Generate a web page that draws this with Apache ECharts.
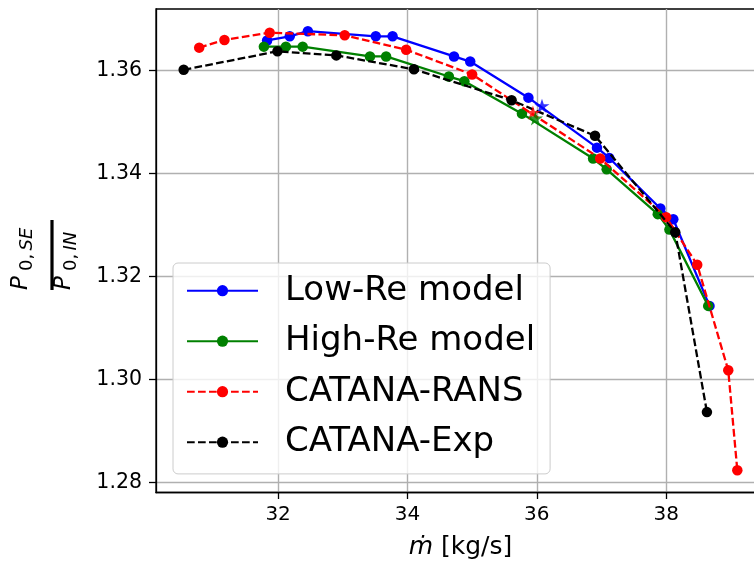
<!DOCTYPE html>
<html>
<head>
<meta charset="utf-8">
<script src="https://cdn.jsdelivr.net/npm/echarts@6/dist/echarts.min.js"></script>
<style>
  html, body { margin: 0; padding: 0; background: #ffffff; }
  #chart { width: 754px; height: 563px; }
</style>
</head>
<body>
<div id="chart"></div>
<script>
// Total-pressure ratio versus mass flow rate
const lowReX  = [31.83, 32.18, 32.46, 33.51, 33.77, 34.72, 34.97, 35.87, 36.93, 37.12, 37.91, 38.11, 38.67];
const lowReY  = [1.3658, 1.3666, 1.3676, 1.3666, 1.3666, 1.3627, 1.3617, 1.3547, 1.3450, 1.3430, 1.3332, 1.3311, 1.3143];

const highReX = [31.78, 32.12, 32.38, 33.42, 33.67, 34.64, 34.88, 35.77, 36.87, 37.08, 37.87, 38.05, 38.65];
const highReY = [1.3646, 1.3646, 1.3646, 1.3627, 1.3627, 1.3588, 1.3579, 1.3516, 1.3429, 1.3408, 1.3321, 1.3291, 1.3143];

const ransX   = [30.78, 31.17, 31.87, 33.03, 33.98, 35.00, 36.98, 38.00, 38.48, 38.96, 39.10];
const ransY   = [1.3644, 1.3659, 1.3673, 1.3668, 1.3640, 1.3592, 1.3429, 1.3315, 1.3223, 1.3018, 1.2824];

const expX    = [30.54, 31.99, 32.90, 34.10, 35.61, 36.90, 38.14, 38.63];
const expY    = [1.3601, 1.3637, 1.3629, 1.3602, 1.3542, 1.3473, 1.3286, 1.2937];

// Design operating points (star markers)
const designLowRe  = [36.08, 1.3531];
const designRans   = [35.94, 1.3518];
const designHighRe = [35.98, 1.3507];

const xTicks = [32, 34, 36, 38];
const yTicks = [1.28, 1.30, 1.32, 1.34, 1.36];

const FONT = 'DejaVu Sans';
const STAR = 'path://M100 0 L122.45 69.1 L195.1 69.1 L136.3 111.8 L158.8 180.9 L100 138.2 L41.2 180.9 L63.7 111.8 L4.9 69.1 L77.55 69.1 Z';
const DASH = [7.7, 3.3];

function pairs(xs, ys) { return xs.map((x, i) => [x, ys[i]]); }

const curves = [
  { name: 'Low-Re model',  color: '#0000ff', dash: 'solid', x: lowReX,  y: lowReY },
  { name: 'High-Re model', color: '#008000', dash: 'solid', x: highReX, y: highReY },
  { name: 'CATANA-RANS',   color: '#ff0000', dash: DASH,    x: ransX,   y: ransY },
  { name: 'CATANA-Exp',    color: '#000000', dash: DASH,    x: expX,    y: expY }
];

const series = curves.map((c, i) => ({
  name: c.name,
  type: 'line',
  data: pairs(c.x, c.y),
  symbol: 'circle',
  symbolSize: 10.5,
  showSymbol: true,
  lineStyle: { color: c.color, width: 2.3, type: c.dash },
  itemStyle: { color: c.color, borderWidth: 0 },
  emphasis: { disabled: true },
  z: 2 + i
}));

const stars = [
  { name: 'Design Low-Re',  color: '#0000ff', p: designLowRe },
  { name: 'Design RANS',    color: '#ff0000', p: designRans },
  { name: 'Design High-Re', color: '#008000', p: designHighRe }
];
stars.forEach((s) => {
  series.push({
    name: s.name,
    type: 'scatter',
    data: [s.p],
    symbol: STAR,
    symbolSize: 15,
    symbolKeepAspect: true,
    itemStyle: { color: s.color },
    emphasis: { disabled: true },
    z: 7
  });
});

const chart = echarts.init(document.getElementById('chart'), null, { renderer: 'canvas' });

chart.setOption({
  animation: false,
  backgroundColor: '#ffffff',
  grid: {
    left: 156, top: 9, bottom: 70.5, right: -11,
    outerBoundsMode: 'none',
    containLabel: false,
    show: true, borderColor: '#000000', borderWidth: 1.3, backgroundColor: 'transparent'
  },
  xAxis: {
    type: 'value',
    min: 30.112, max: 39.528,
    name: '{i|ṁ} [kg/s]',
    nameLocation: 'middle',
    nameGap: 42,
    nameTextStyle: {
      fontFamily: FONT, fontSize: 25, color: '#000',
      rich: { i: { fontFamily: FONT, fontSize: 25, fontStyle: 'italic', color: '#000' } }
    },
    axisLine: { show: true, lineStyle: { color: '#000', width: 1.3 } },
    axisTick: { show: true, length: 6.5, inside: false, lineStyle: { color: '#000', width: 1.3 }, customValues: xTicks },
    axisLabel: { fontFamily: FONT, fontSize: 20, color: '#000', margin: 12, customValues: xTicks, formatter: (v) => String(v) },
    splitLine: { show: true, lineStyle: { color: '#b0b0b0', width: 1.4 } }
  },
  yAxis: {
    type: 'value',
    min: 1.2781, max: 1.3719,
    axisLine: { show: true, lineStyle: { color: '#000', width: 1.3 } },
    axisTick: { show: true, length: 7, inside: false, lineStyle: { color: '#000', width: 1.3 }, customValues: yTicks },
    axisLabel: { fontFamily: FONT, fontSize: 20.5, color: '#000', margin: 14, customValues: yTicks, formatter: (v) => v.toFixed(2) },
    splitLine: { show: true, lineStyle: { color: '#b0b0b0', width: 1.4 } }
  },
  legend: {
    data: curves.map((c) => c.name),
    orient: 'vertical',
    left: 173, top: 263,
    itemWidth: 71, itemHeight: 14, itemGap: 10.5,
    padding: [7.7, 15, 11.7, 13],
    backgroundColor: 'rgba(255,255,255,0.8)',
    borderColor: '#cccccc', borderWidth: 1, borderRadius: 5,
    selectedMode: false,
    textStyle: { fontFamily: FONT, fontSize: 34, color: '#000', lineHeight: 40, padding: [0, 0, 0, 22] },
    z: 10
  },
  graphic: [{
    type: 'group',
    x: 52, y: 255,
    rotation: Math.PI / 2,
    children: [
      { type: 'line', shape: { x1: -35, y1: 0, x2: 35, y2: 0 }, style: { stroke: '#000', lineWidth: 3.2 } },
      { type: 'text', x: -35, y: -31, style: { text: 'P', fontFamily: FONT, fontSize: 23, fontStyle: 'italic', fill: '#000', align: 'left', verticalAlign: 'middle' } },
      { type: 'text', x: -16, y: -24.5, style: {
          text: '{u|0,} {i|SE}', align: 'left', verticalAlign: 'middle',
          rich: {
            u: { fontFamily: FONT, fontSize: 18, fill: '#000' },
            i: { fontFamily: FONT, fontSize: 18, fontStyle: 'italic', fill: '#000' }
          } } },
      { type: 'text', x: -35, y: 12.5, style: { text: 'P', fontFamily: FONT, fontSize: 23, fontStyle: 'italic', fill: '#000', align: 'left', verticalAlign: 'middle' } },
      { type: 'text', x: -16, y: 19, style: {
          text: '{u|0,} {i|IN}', align: 'left', verticalAlign: 'middle',
          rich: {
            u: { fontFamily: FONT, fontSize: 18, fill: '#000' },
            i: { fontFamily: FONT, fontSize: 18, fontStyle: 'italic', fill: '#000' }
          } } }
    ]
  }],
  series: series
});
</script>
</body>
</html>
